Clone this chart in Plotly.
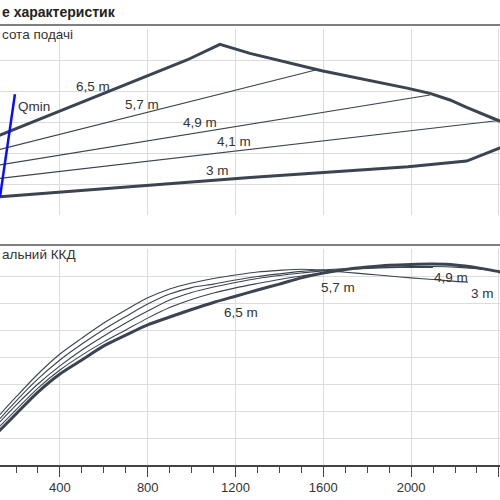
import plotly.graph_objects as go

# ---------------- data: top panel (head, m) ----------------
env_q = [100, 127, 979, 1129, 1266, 1593, 1987, 2086, 2177, 2253, 2400, 2440]
env_h = [5.0, 5.16, 10.0, 11.01, 10.43, 9.31, 8.17, 7.85, 7.42, 6.94, 6.08, 5.85]
low_q = [110, 127, 1266, 1593, 1986, 2253, 2400, 2450]
low_h = [1.17, 1.18, 2.42, 2.73, 3.12, 3.48, 4.30, 4.58]
h57_q = [100, 1570]
h57_h = [4.14, 9.37]
h49_q = [100, 2086]
h49_h = [3.17, 7.74]
h41_q = [100, 2400]
h41_h = [2.32, 6.10]
qmin_q = [127, 195]
qmin_h = [1.16, 7.79]

# ---------------- data: bottom panel (efficiency, %) ----------------
e3_q = [100, 200, 300, 400, 500, 600, 700, 800, 900, 1000, 1100, 1200, 1300, 1400, 1500,
        1600, 1700, 1800, 1900, 2000, 2100, 2200, 2259]
e3_v = [16.3, 25.2, 33.7, 41.1, 47.0, 52.6, 57.4, 61.9, 65.2, 67.4, 69.1, 70.4, 71.5, 72.1,
        72.5, 72.1, 71.4, 70.7, 70.0, 69.3, 68.7, 68.0, 67.7]
e41_q = [100, 200, 300, 400, 500, 600, 700, 800, 900, 1000, 1100, 1200, 1300, 1400, 1500,
         1600, 1700, 1800, 1900, 2000, 2100, 2200, 2300, 2400]
e41_v = [14.8, 23.7, 31.9, 38.9, 44.8, 50.2, 55.0, 59.6, 63.3, 65.7, 67.0, 68.5, 69.8, 70.8,
         71.7, 72.3, 72.7, 73.1, 73.3, 73.5, 73.5, 73.3, 72.7, 71.7]
e49_q = [100, 200, 300, 400, 500, 600, 700, 800, 900, 1000, 1100, 1200, 1300, 1400, 1500,
         1600, 1700, 1800, 1900, 2000, 2100]
e49_v = [13.7, 22.2, 30.0, 36.7, 42.6, 47.8, 52.6, 57.0, 61.1, 63.9, 65.9, 67.6, 69.1, 70.2,
         71.1, 71.9, 72.4, 72.8, 73.1, 73.2, 73.2]
e57_q = [100, 200, 300, 400, 500, 600, 700, 800, 900, 1000, 1100, 1200, 1300, 1400, 1500, 1567]
e57_v = [12.2, 20.4, 28.5, 35.2, 40.7, 45.6, 50.0, 54.4, 58.3, 61.3, 63.7, 65.6, 67.2, 68.7,
         70.0, 70.7]
e65_q = [100, 200, 300, 400, 500, 600, 700, 800, 900, 1000, 1100, 1200, 1300, 1400, 1500,
         1600, 1700, 1800, 1900, 2000, 2100, 2200, 2300, 2400, 2450]
e65_v = [10.7, 18.9, 27.0, 33.7, 38.9, 44.1, 48.1, 51.9, 54.8, 57.6, 60.2, 62.5, 64.8, 67.0,
         69.3, 71.1, 72.4, 73.3, 74.0, 74.3, 74.4, 74.1, 73.1, 71.6, 70.9]

x_ticks = [400, 800, 1200, 1600, 2000, 2400]

title_text = "е характеристик"
top_label = "сота подачі"
bottom_label = "альний ККД"

top_curve_labels = [("6,5 m", 551, 8.32), ("5,7 m", 772, 7.10), ("4,9 m", 1036, 5.95),
                    ("4,1 m", 1191, 4.77), ("3 m", 1118, 2.90)]
bot_curve_labels = [("6,5 m", 1223, 56.3), ("5,7 m", 1669, 65.6), ("4,9 m", 2182, 69.6),
                    ("3 m", 2325, 63.5)]

DARK = "#3b4450"
GRID = "#dcdcdc"
FONT = "Liberation Sans"
TXT = "#333333"

fig = go.Figure()

def line(q, v, w, axis, color=DARK, shape="linear"):
    fig.add_trace(go.Scatter(x=q, y=v, mode="lines", xaxis=axis[0], yaxis=axis[1],
                             line=dict(color=color, width=w, shape=shape, smoothing=0.8),
                             hoverinfo="skip", showlegend=False))

top = ("x2", "y2")
bot = ("x", "y")
line(h57_q, h57_h, 1.1, top)
line(h49_q, h49_h, 1.1, top)
line(h41_q, h41_h, 1.1, top)
line(env_q, env_h, 3, top)
line(low_q, low_h, 3, top)
line(qmin_q, qmin_h, 2.5, top, color="#0a10f5")

line(e3_q, e3_v, 1.1, bot, shape="spline")
line(e41_q, e41_v, 1.1, bot, shape="spline")
line(e49_q, e49_v, 1.1, bot, shape="spline")
line(e57_q, e57_v, 1.1, bot, shape="spline")
line(e65_q, e65_v, 3, bot, shape="spline")

ann = []
for t, q, v in top_curve_labels:
    ann.append(dict(text=t, x=q, y=v, xref="x2", yref="y2", showarrow=False,
                    font=dict(family=FONT, size=13.5, color=TXT)))
ann.append(dict(text="Qmin", x=280, y=6.99, xref="x2", yref="y2", showarrow=False,
                font=dict(family=FONT, size=13.5, color=TXT)))
for t, q, v in bot_curve_labels:
    ann.append(dict(text=t, x=q, y=v, xref="x", yref="y", showarrow=False,
                    font=dict(family=FONT, size=13.5, color=TXT)))

H = 465.0
def py(p):
    return (H - p) / H

ann.append(dict(text="<b>" + title_text + "</b>", x=0, y=py(12), xref="paper", yref="paper",
                xanchor="left", yanchor="middle", showarrow=False,
                font=dict(family=FONT, size=14, color="#222222")))
ann.append(dict(text=top_label, x=0, y=py(34.3), xref="paper", yref="paper",
                xanchor="left", yanchor="middle", showarrow=False,
                font=dict(family=FONT, size=13.5, color=TXT)))
ann.append(dict(text=bottom_label, x=0, y=py(254.8), xref="paper", yref="paper",
                xanchor="left", yanchor="middle", showarrow=False,
                font=dict(family=FONT, size=13.5, color=TXT)))

shapes = [
    dict(type="line", xref="paper", yref="paper", x0=0, x1=1, y0=py(25), y1=py(25),
         line=dict(color="#555555", width=1.5)),
    dict(type="line", xref="paper", yref="paper", x0=0, x1=1, y0=py(245), y1=py(245),
         line=dict(color="#555555", width=1.5)),
]

xr = [127, 2405]
fig.update_layout(
    width=500, height=500, margin=dict(l=0, r=0, t=0, b=35),
    paper_bgcolor="white", plot_bgcolor="white", showlegend=False,
    annotations=ann, shapes=shapes,
    xaxis=dict(domain=[0, 1], range=xr, tickvals=x_ticks, showgrid=True, gridcolor=GRID,
               gridwidth=1, zeroline=False, showline=True, linecolor="#444444", linewidth=1.5,
               ticks="outside", ticklen=10, tickcolor="#444444", tickwidth=1.2,
               minor=dict(dtick=100, tick0=0, ticks="outside", ticklen=6, tickcolor="#444444",
                          tickwidth=1, showgrid=False),
               tickfont=dict(family=FONT, size=13, color=TXT), anchor="y"),
    yaxis=dict(domain=[0, py(249)], range=[0, 80], dtick=10, showgrid=True, gridcolor=GRID,
               zeroline=False, showticklabels=False, ticks="", anchor="x"),
    xaxis2=dict(domain=[0, 1], range=xr, tickvals=x_ticks, showgrid=True, gridcolor=GRID,
                zeroline=False, showticklabels=False, ticks="", anchor="y2", matches="x"),
    yaxis2=dict(domain=[py(215), py(29)], range=[0, 12], dtick=2, showgrid=True, gridcolor=GRID,
                zeroline=False, showticklabels=False, ticks="", anchor="x2"),
)

fig.write_html("out.html")
